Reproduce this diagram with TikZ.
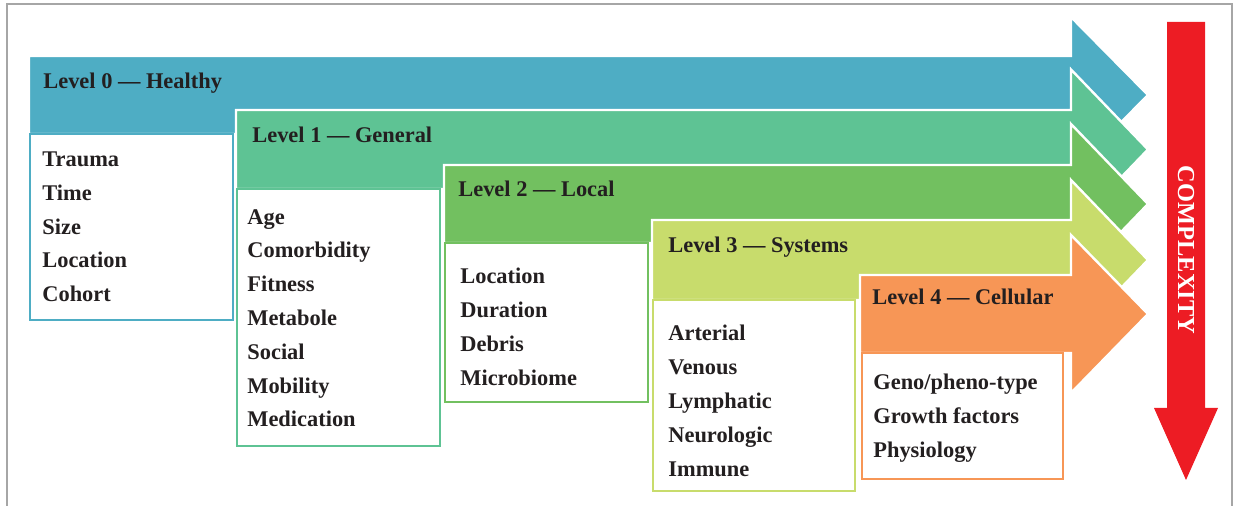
\documentclass[tikz,border=0pt]{standalone}
\usepackage{fontspec}
\setmainfont{Liberation Serif}
\definecolor{lvlzero}{HTML}{4EADC4}
\definecolor{lvlone}{HTML}{5EC394}
\definecolor{lvltwo}{HTML}{72C060}
\definecolor{lvlthree}{HTML}{C8DC6C}
\definecolor{lvlfour}{HTML}{F79656}
\definecolor{cplx}{HTML}{ED1C24}
\definecolor{ink}{HTML}{231F20}
\begin{document}
\begin{tikzpicture}[x=0.5pt,y=-0.5pt]
    \tikzstyle{frame}=[draw=black!35, line width=0.8pt]
    \tikzstyle{arrow}=[draw=white, line width=1.2pt, line join=miter]
    \tikzstyle{box}=[fill=white, line width=0.7pt]
    \tikzstyle{title}=[anchor=base west, inner sep=0pt, text=ink, font=\bfseries\fontsize{11.2}{13}\selectfont]
    \tikzstyle{list}=[anchor=north west, inner sep=0pt, align=left, text=ink, font=\bfseries\fontsize{11.2}{16.9}\selectfont]

    \useasboundingbox (0,0) rectangle (1238,506);
    \draw[frame] (7,506) -- (7,4) -- (1232,4) -- (1232,506);

    \filldraw[arrow, fill=lvlzero] (29,56) -- (1071,56) -- (1071,17) -- (1148,95) -- (1071,173) -- (1071,134) -- (29,134) -- cycle;
    \draw[box, draw=lvlzero] (30,134) rectangle (233,320);
    \node[title] (l0) at (43,88.3) {Level 0 — Healthy};
    \node[list] (b0) at (42,151.5) {Trauma\\Time\\Size\\Location\\Cohort};

    \filldraw[arrow, fill=lvlone] (236,110) -- (1071,110) -- (1071,69.5) -- (1148,149.5) -- (1071,229.5) -- (1071,189) -- (236,189) -- cycle;
    \draw[box, draw=lvlone] (237,189) rectangle (440,446);
    \node[title] (l1) at (252,142.7) {Level 1 — General};
    \node[list] (b1) at (247,209) {Age\\Comorbidity\\Fitness\\Metabole\\Social\\Mobility\\Medication};

    \filldraw[arrow, fill=lvltwo] (444,165) -- (1071,165) -- (1071,124) -- (1148,204) -- (1071,284) -- (1071,243) -- (444,243) -- cycle;
    \draw[box, draw=lvltwo] (445,243) rectangle (648,402);
    \node[title] (l2) at (458,196.7) {Level 2 — Local};
    \node[list] (b2) at (460,268) {Location\\Duration\\Debris\\Microbiome};

    \filldraw[arrow, fill=lvlthree] (652,220) -- (1071,220) -- (1071,180) -- (1148,260) -- (1071,340) -- (1071,300) -- (652,300) -- cycle;
    \draw[box, draw=lvlthree] (653,300) rectangle (855,491);
    \node[title] (l3) at (668,252.3) {Level 3 — Systems};
    \node[list] (b3) at (668,325) {Arterial\\Venous\\Lymphatic\\Neurologic\\Immune};

    \filldraw[arrow, fill=lvlfour] (860,275) -- (1071,275) -- (1071,235) -- (1148,314) -- (1071,393) -- (1071,353) -- (860,353) -- cycle;
    \draw[box, draw=lvlfour] (862,353) rectangle (1063,479);
    \node[title] (l4) at (872,304.3) {Level 4 — Cellular};
    \node[list] (b4) at (873,374) {Geno/pheno-type\\Growth factors\\Physiology};

    \fill[cplx] (1167,22) -- (1205,22) -- (1205,408) -- (1218,408) -- (1186,480) -- (1154,408) -- (1167,408) -- cycle;
    \node[rotate=-90, text=white, font=\bfseries\fontsize{12.2}{14}\selectfont] (cx) at (1186,250) {COMPLEXITY};
\end{tikzpicture}
\end{document}
